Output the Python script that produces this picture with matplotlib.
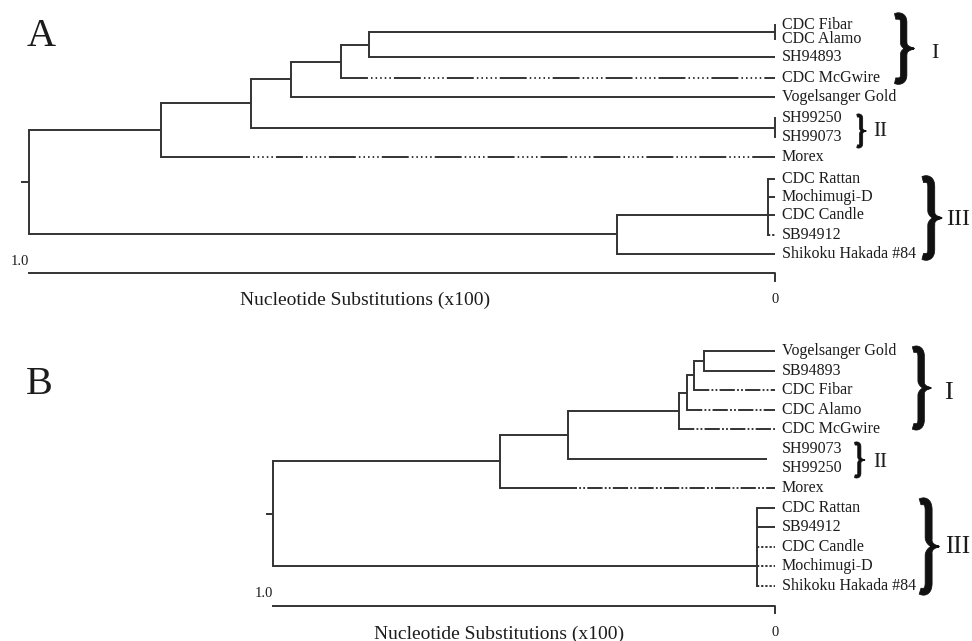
import matplotlib
matplotlib.use("Agg")
import matplotlib.pyplot as plt
import numpy as np
from matplotlib.patches import Polygon
from matplotlib.transforms import IdentityTransform

plt.rcParams['font.family'] = ['Liberation Serif', 'DejaVu Serif']
plt.rcParams['lines.scale_dashes'] = False

# ---------------- tree A ----------------
a_leaves = ["CDC Fibar", "CDC Alamo", "SH94893", "CDC McGwire", "Vogelsanger Gold",
            "SH99250", "SH99073", "Morex", "CDC Rattan", "Mochimugi-D",
            "CDC Candle", "SB94912", "Shikoku Hakada #84"]
a_rows = [0, 0.75, 1.7, 2.8, 3.75, 4.9, 5.85, 6.9, 8.05, 9.0, 9.95, 11.0, 12.0]
# node name: (distance, children) -- ints are leaf indices
a_nodes = {
    "root": (1.000, ["n1", "n6"]),
    "n1": (0.823, ["n2", 7]),
    "n2": (0.702, ["n3", "t2"]),
    "n3": (0.649, ["n4", 4]),
    "n4": (0.582, ["n5", 3]),
    "n5": (0.544, ["t1", 2]),
    "t1": (0.0, [0, 1]),
    "t2": (0.0, [5, 6]),
    "n6": (0.212, ["n7", 12]),
    "n7": (0.009, [8, 9, 10, 11]),
}
a_attach = {"n7": 9.95}
a_styles = {"CDC McGwire": "long", "Morex": "long", "SB94912": "dot"}
a_solid_to = {"Morex": 0.704}
a_groups = ["I", "II", "III"]
a_group_rows = [(-0.52, 2.99), (4.72, 6.39), (8.02, 12.21)]

# ---------------- tree B ----------------
b_leaves = ["Vogelsanger Gold", "SB94893", "CDC Fibar", "CDC Alamo", "CDC McGwire",
            "SH99073", "SH99250", "Morex", "CDC Rattan", "SB94912",
            "CDC Candle", "Mochimugi-D", "Shikoku Hakada #84"]
b_rows = list(range(13))
b_nodes = {
    "root": (1.000, ["n1", "n7"]),
    "n1": (0.548, ["n2", 7]),
    "n2": (0.412, ["n3", "t2"]),
    "n3": (0.191, ["n4", 4]),
    "n4": (0.175, ["n5", 3]),
    "n5": (0.161, ["n6", 2]),
    "n6": (0.141, [0, 1]),
    "t2": (0.016, [5, 6]),
    "n7": (0.036, [8, 9, 10, 11, 12]),
}
b_attach = {"n7": 11.0}
b_hidden = {"t2"}
b_styles = {"CDC Fibar": "dashdot", "CDC Alamo": "dashdot", "CDC McGwire": "dashdot",
            "Morex": "dashdot", "CDC Candle": "dot", "Mochimugi-D": "dot",
            "Shikoku Hakada #84": "dot"}
b_solid_to = {"Morex": 0.394}
b_groups = ["I", "II", "III"]
b_group_rows = [(-0.15, 3.93), (4.7, 6.43), (7.61, 12.36)]

LINE = '#333333'
TEXT = '#1c1c1c'
LW = 1.4
dot_seq = []
for i in range(5):
    dot_seq += [2.2, 1.1]
PATTERNS = {
    "long": [19.4] + dot_seq + [2.2],
    "dashdot": [11.0, 1.6, 1.3, 1.6, 1.3, 1.6],
    "dot": [1.6, 1.4],
}

fig = plt.figure(figsize=(9.72, 6.41), dpi=100)


def make_axes(top_px, bot_px, x_one, x_zero, y_first, row_px):
    ax = fig.add_axes([0, 1 - bot_px / 641, 1, (bot_px - top_px) / 641])
    ppu = x_zero - x_one
    ax.set_xlim(x_zero / ppu, (x_zero - 972) / ppu)
    ax.set_ylim((bot_px - y_first) / row_px, (top_px - y_first) / row_px)
    ax.axis('off')
    return ax, ppu


def node_row(name, nodes, rows, attach):
    if isinstance(name, int):
        return rows[name]
    if name in attach:
        return attach[name]
    ys = [node_row(k, nodes, rows, attach) for k in nodes[name][1]]
    return (min(ys) + max(ys)) / 2


def hline(ax, x0, x1, y, style=None, offset=0):
    if style is None:
        ax.plot([x0, x1], [y, y], color=LINE, lw=LW, solid_capstyle='butt')
    else:
        ax.plot([x0, x1], [y, y], color=LINE, lw=LW,
                linestyle=(offset, PATTERNS[style]), dash_capstyle='butt')


def draw_tree(ax, name, parent_h, tree):
    nodes, rows, attach, leaves, styles, solid_to, hidden = tree
    y = node_row(name, nodes, rows, attach)
    if isinstance(name, int):
        label = leaves[name]
        style = styles.get(label)
        if label in solid_to:
            hline(ax, parent_h, solid_to[label], y)
            hline(ax, solid_to[label], 0, y, style, offset=PATTERNS[style][0])
        else:
            hline(ax, parent_h, 0, y, style)
        return
    h, kids = nodes[name]
    if parent_h != h:
        hline(ax, parent_h, h, y)
    if name in hidden:
        return
    ys = [node_row(k, nodes, rows, attach) for k in kids]
    ax.plot([h, h], [min(ys), max(ys)], color=LINE, lw=LW, solid_capstyle='projecting')
    for k in kids:
        draw_tree(ax, k, h, tree)


def brace(ax, x, r0, r1, w, thick):
    px0, py0 = ax.transData.transform((x, r0))
    _, py1 = ax.transData.transform((x, r1))
    h = py0 - py1

    def quad(p0, c, p1, n=40):
        t = np.linspace(0, 1, n)[:, None]
        return (1 - t) ** 2 * np.array(p0) + 2 * (1 - t) * t * np.array(c) + t ** 2 * np.array(p1)

    a = 0.45 * w
    top = np.vstack([quad((0, 0.02 * h), (a, -0.01 * h), (a, 0.11 * h)),
                     quad((a, 0.11 * h), (a, 0.25 * h), (a, 0.4 * h))[1:],
                     quad((a, 0.4 * h), (a, 0.5 * h), (w, 0.5 * h))[1:]])
    seg = np.hypot(*np.diff(top, axis=0).T)
    s = np.concatenate([[0], np.cumsum(seg)]) / seg.sum()
    tk = np.interp(s, [0, 0.06, 0.75, 1], [0.9, 1, 1, 0.15]) * thick
    bot = top[::-1].copy()
    bot[:, 1] = h - bot[:, 1]
    cl = np.vstack([top, bot[1:]])
    tks = np.concatenate([tk, tk[::-1][1:]])
    d = np.gradient(cl, axis=0)
    d /= np.hypot(d[:, 0], d[:, 1])[:, None]
    nrm = np.column_stack([-d[:, 1], d[:, 0]])
    left = cl + nrm * tks[:, None] / 2
    right = cl - nrm * tks[:, None] / 2
    pts = np.vstack([left, right[::-1]])
    disp = np.column_stack([px0 + pts[:, 0], py0 - pts[:, 1]])
    ax.add_patch(Polygon(disp, closed=True, transform=IdentityTransform(),
                         facecolor='#111111', edgecolor='#111111', lw=0.5,
                         joinstyle='round'))


def panel(ax, ppu, tree, groups, group_rows, brace_x, brace_w, brace_t,
          num_pos, num_sizes, letter, letter_xy):
    nodes, rows, attach, leaves = tree[:4]
    stub = 7.5 / ppu
    draw_tree(ax, "root", 1.0 + stub, tree)
    for name, r in zip(leaves, rows):
        ax.annotate(name, xy=(0, r), xytext=(5, 0), textcoords='offset points',
                    ha='left', va='center', fontsize=11.5, color=TEXT)
    # scale bar
    ax.plot([1.0, 0, 0], [13.0, 13.0, 13.4], color=LINE, lw=LW)
    ax.text(1.0, 12.4, '1.0', ha='right', va='center', fontsize=10.5, color=TEXT)
    ax.text(0, 14.4, '0', ha='center', va='center', fontsize=10.5, color=TEXT)
    ax.text(0.55, 14.45, 'Nucleotide Substitutions (x100)', ha='center', va='center',
            fontsize=14, color=TEXT)
    for g, (r0, r1), bx, bw, bt, (nx, nr, ha), fs in zip(groups, group_rows, brace_x, brace_w,
                                                       brace_t, num_pos, num_sizes):
        brace(ax, bx, r0, r1, bw, bt)
        ax.text(nx, nr, g, ha=ha, va='center', fontsize=fs, color=TEXT)
    fig.text(letter_xy[0] / 972, 1 - letter_xy[1] / 641, letter, ha='center', va='center',
             fontsize=29, color=TEXT)


ax_a, ppu_a = make_axes(0, 320, 29, 775, 25, 19.08)
ax_b, ppu_b = make_axes(320, 641, 273, 775, 351, 19.58)

panel(ax_a, ppu_a, (a_nodes, a_rows, a_attach, a_leaves, a_styles, a_solid_to, set()),
      a_groups, a_group_rows,
      [-0.161, -0.110, -0.198], [19, 9, 19], [6.5, 3.2, 7.0],
      [(-0.214, 1.47, 'center'), (-0.141, 5.6, 'center'), (-0.229, 10.2, 'left')],
      [16, 15, 17], 'A', (41, 36))

panel(ax_b, ppu_b, (b_nodes, b_rows, b_attach, b_leaves, b_styles, b_solid_to, b_hidden),
      b_groups, b_group_rows,
      [-0.275, -0.159, -0.289], [18, 10, 19], [6.5, 3.2, 7.0],
      [(-0.345, 2.14, 'center'), (-0.209, 5.67, 'center'), (-0.339, 10.0, 'left')],
      [19, 15, 18], 'B', (39, 385))

fig.savefig('out.png', dpi=100, facecolor='white')
